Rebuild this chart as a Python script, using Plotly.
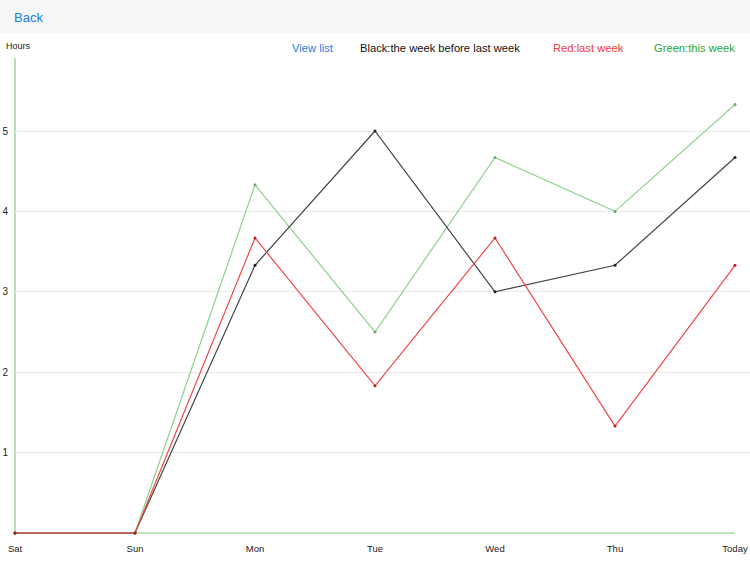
import plotly.graph_objects as go

days = ["Sat", "Sun", "Mon", "Tue", "Wed", "Thu", "Today"]
black_week_before = [0, 0, 3.33, 5.0, 3.0, 3.33, 4.67]
red_last_week = [0, 0, 3.67, 1.83, 3.67, 1.33, 3.33]
green_this_week = [0, 0, 4.33, 2.5, 4.67, 4.0, 5.33]
y_ticks = [1, 2, 3, 4, 5]

W, H = 750, 563
L, R, T, B = 12, 0, 58, 27
pw, ph = W - L - R, H - T - B
XS, YS = 120.0, 80.4          # pixels per unit
x0 = -(15 - L) / XS
y0 = -(H - B - 533) / YS

def px(x):
    return (x - L) / pw

def py(y):
    return (H - B - y) / ph

xs = list(range(len(days)))
fig = go.Figure()
for vals, lc, mc in [
    (green_this_week, "#8fd08f", "#6aaa6a"),
    (black_week_before, "#444444", "#222222"),
    (red_last_week, "#f04848", "#b02020"),
]:
    fig.add_trace(go.Scatter(x=xs, y=vals, mode="lines+markers",
                             line=dict(color=lc, width=1.2),
                             marker=dict(color=mc, size=3),
                             showlegend=False, hoverinfo="skip"))

shapes = [
    dict(type="rect", xref="paper", yref="paper", x0=px(0), x1=px(W), y0=py(0), y1=py(33),
         fillcolor="#f7f7f7", line=dict(width=0), layer="below"),
    dict(type="line", xref="x", yref="y", x0=0, x1=6, y0=0, y1=0, layer="below",
         line=dict(color="#a8dca8", width=1.7)),
    dict(type="line", xref="x", yref="paper", x0=0, x1=0, y0=py(533), y1=1, layer="below",
         line=dict(color="#a8dca8", width=1.7)),
]

ann = [
    dict(text="Back", x=px(12), y=py(17), xanchor="left", yanchor="middle",
         font=dict(size=13, color="#1a7fe0")),
    dict(text="Hours", x=px(4), y=py(46), xanchor="left", yanchor="middle",
         font=dict(size=9, color="#222222")),
    dict(text="View list", x=px(290), y=py(48.5), xanchor="left", yanchor="middle",
         font=dict(size=11.2, color="#1a7fe0")),
    dict(text="Black:the week before last week", x=px(358), y=py(48.5), xanchor="left", yanchor="middle",
         font=dict(size=11.2, color="#111111")),
    dict(text="Red:last week", x=px(551), y=py(48.5), xanchor="left", yanchor="middle",
         font=dict(size=11.2, color="#f03c3c")),
    dict(text="Green:this week", x=px(652), y=py(48.5), xanchor="left", yanchor="middle",
         font=dict(size=11.2, color="#2ea62e")),
]
for a in ann:
    a.update(xref="paper", yref="paper", showarrow=False)

fig.update_layout(
    width=W, height=H,
    margin=dict(l=L, r=R, t=T, b=B, pad=0),
    paper_bgcolor="white", plot_bgcolor="white",
    font=dict(family="Liberation Sans, Arial, sans-serif", color="#222222"),
    shapes=shapes, annotations=ann,
    xaxis=dict(range=[x0, x0 + pw / XS], tickvals=xs, ticktext=days, showgrid=False,
               zeroline=False, showline=False, tickfont=dict(size=9.5), ticks="",
               ticklabelstandoff=5, fixedrange=True),
    yaxis=dict(range=[y0, y0 + ph / YS], tickvals=y_ticks, showgrid=True, gridcolor="#e8e8e8",
               gridwidth=1, zeroline=False, showline=False, tickfont=dict(size=10),
               ticks="", ticklabelstandoff=3, fixedrange=True),
)

fig.write_html("out.html", config={"displayModeBar": False},
               post_script="document.body.style.margin='0';document.body.style.overflow='hidden';")
